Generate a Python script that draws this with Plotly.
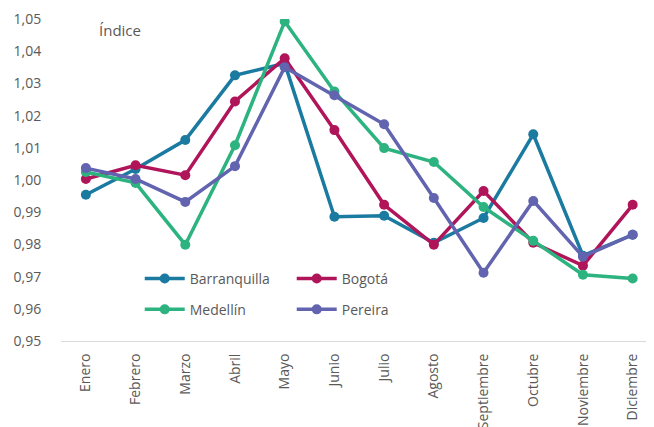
import plotly.graph_objects as go

months = ["Enero", "Febrero", "Marzo", "Abril", "Mayo", "Junio", "Julio",
          "Agosto", "Septiembre", "Octubre", "Noviembre", "Diciembre"]

barranquilla = [0.9954, 1.0034, 1.0124, 1.0325, 1.0362, 0.9886, 0.9889,
                0.9805, 0.9882, 1.0142, 0.9765, 0.9830]
bogota = [1.0003, 1.0046, 1.0015, 1.0244, 1.0378, 1.0155, 0.9923,
          0.9799, 0.9966, 0.9805, 0.9734, 0.9923]
medellin = [1.0025, 0.9991, 0.9799, 1.0108, 1.0492, 1.0275, 1.0099,
            1.0056, 0.9916, 0.9811, 0.9706, 0.9694]
pereira = [1.0037, 1.0003, 0.9932, 1.0043, 1.0350, 1.0263, 1.0173,
           0.9944, 0.9712, 0.9935, 0.9762, 0.9830]

series = [
    ("Barranquilla", barranquilla, "#1a7aa0", "legend"),
    ("Bogotá", bogota, "#b0155a", "legend"),
    ("Medellín", medellin, "#2db37f", "legend2"),
    ("Pereira", pereira, "#6264b0", "legend2"),
]

FONT = "Open Sans"
GREY = "#595959"

fig = go.Figure()
for name, vals, color, leg in series:
    fig.add_trace(go.Scatter(
        x=months, y=vals, name=name, mode="lines+markers",
        line=dict(color=color, width=3.5),
        marker=dict(color=color, size=10),
        legend=leg,
    ))

legend_common = dict(
    orientation="h", xanchor="left", yanchor="middle",
    font=dict(family=FONT, size=14, color=GREY),
    bgcolor="rgba(0,0,0,0)", entrywidth=97, entrywidthmode="pixels",
    itemwidth=40, tracegroupgap=0,
)

fig.update_layout(
    width=654, height=427,
    margin=dict(l=53, r=0, t=10.5, b=94),
    paper_bgcolor="white", plot_bgcolor="white",
    separators=",.",
    showlegend=True,
    legend=dict(x=0.131, y=0.193, **legend_common),
    legend2=dict(x=0.131, y=0.097, **legend_common),
    xaxis=dict(
        range=[-0.5, 11.59], showgrid=False, zeroline=False,
        showline=True, linecolor="#d9d9d9", linewidth=1,
        tickangle=-90, ticks="", ticklen=0, ticklabelstandoff=6,
        tickfont=dict(family=FONT, size=14, color=GREY),
    ),
    yaxis=dict(
        range=[0.95, 1.05], dtick=0.01, tickformat=".2f",
        showgrid=False, zeroline=False, showline=False,
        ticks="outside", ticklen=16, tickcolor="rgba(0,0,0,0)",
        tickfont=dict(family=FONT, size=14, color=GREY),
    ),
    annotations=[dict(
        text="Índice", xref="paper", yref="paper", x=0.06, y=0.965,
        xanchor="left", yanchor="middle", showarrow=False,
        font=dict(family=FONT, size=15, color=GREY),
    )],
)

fig.write_html("out.html")
